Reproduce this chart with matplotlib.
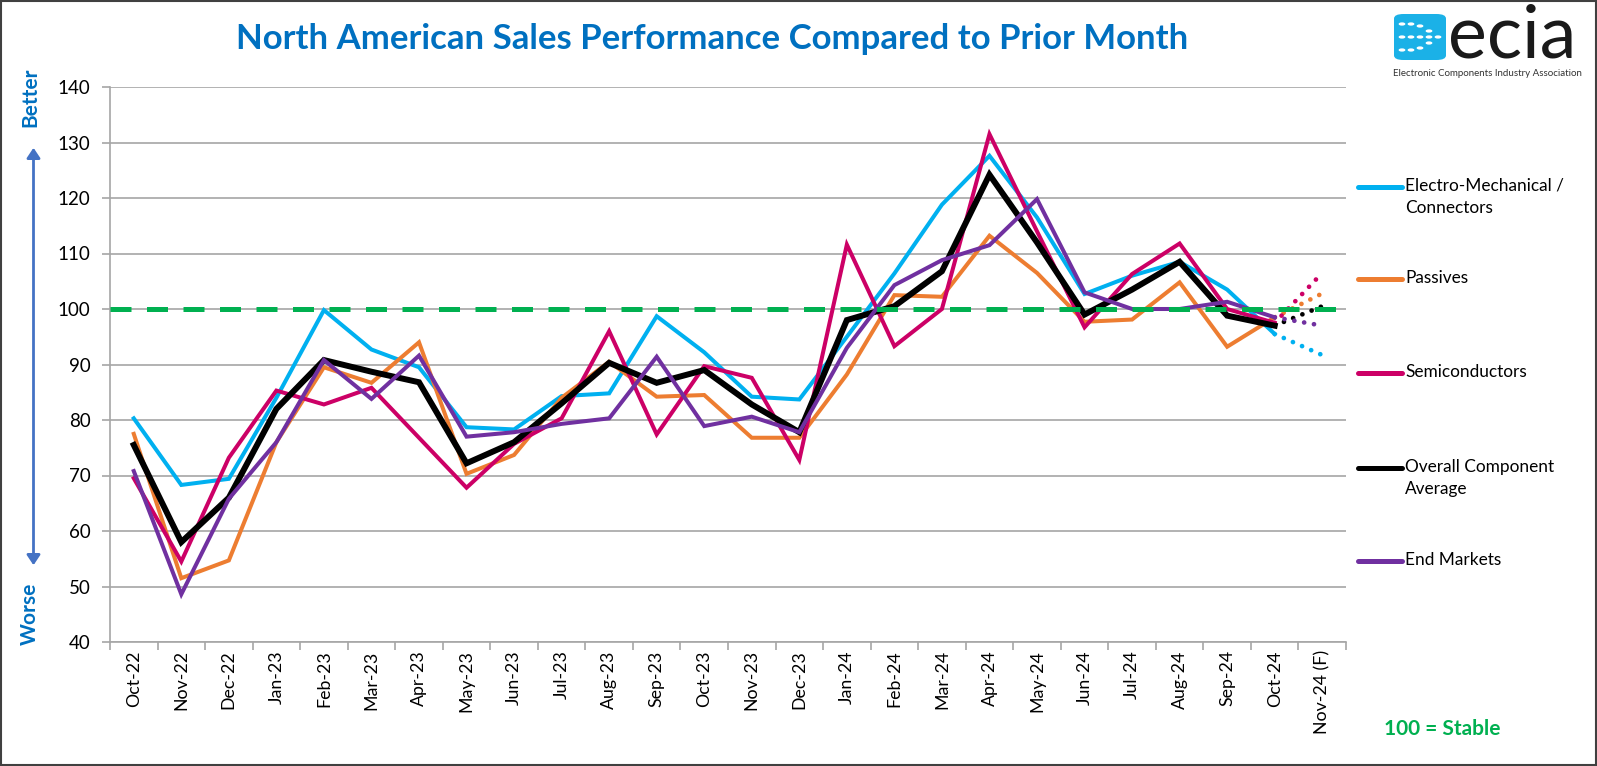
import matplotlib
matplotlib.use('Agg')
import matplotlib.pyplot as plt
from matplotlib.lines import Line2D
from matplotlib.patches import FancyBboxPatch, Circle, Rectangle
import numpy as np

plt.rcParams['font.family'] = ['Lato', 'DejaVu Sans']

# ---- data ----
months = ['Oct-22', 'Nov-22', 'Dec-22', 'Jan-23', 'Feb-23', 'Mar-23', 'Apr-23',
          'May-23', 'Jun-23', 'Jul-23', 'Aug-23', 'Sep-23', 'Oct-23', 'Nov-23',
          'Dec-23', 'Jan-24', 'Feb-24', 'Mar-24', 'Apr-24', 'May-24', 'Jun-24',
          'Jul-24', 'Aug-24', 'Sep-24', 'Oct-24', 'Nov-24 (F)']

electro = [80.3, 68.3, 69.4, 84.0, 99.8, 92.7, 89.5, 78.7, 78.3, 84.3, 84.8, 98.7,
           92.2, 84.2, 83.7, 95.0, 106.4, 118.8, 127.6, 116.5, 102.7, 106.0, 108.5,
           103.5, 95.5]
passives = [77.5, 51.5, 54.7, 76.0, 89.5, 86.7, 94.0, 70.3, 73.7, 84.0, 90.5, 84.2,
            84.5, 76.8, 76.8, 88.2, 102.5, 102.2, 113.2, 106.5, 97.7, 98.1, 104.8,
            93.2, 98.5]
semis = [69.5, 54.5, 73.2, 85.3, 82.8, 85.8, 76.8, 67.8, 75.7, 80.3, 96.0, 77.4,
         89.7, 87.6, 72.8, 111.6, 93.3, 100.0, 131.5, 114.0, 96.7, 106.3, 111.8,
         100.0, 97.5]
overall = [75.5, 58.0, 66.0, 82.0, 90.8, 88.7, 86.8, 72.2, 76.0, 83.0, 90.3, 86.7,
           89.0, 82.8, 77.8, 98.0, 100.5, 106.8, 124.2, 112.0, 99.0, 103.5, 108.5,
           98.8, 97.0]
end_markets = [70.8, 48.6, 65.8, 76.0, 90.8, 83.8, 91.6, 77.0, 77.8, 79.3, 80.3, 91.4,
               78.9, 80.6, 77.8, 93.0, 104.3, 108.8, 111.5, 119.8, 103.0, 100.0, 100.0,
               101.3, 98.5]

# Nov-24 forecast values
forecast = {'electro': 91.7, 'passives': 102.8, 'semis': 106.5,
            'overall': 100.5, 'end_markets': 97.0}

series_names = ['Electro-Mechanical /\nConnectors', 'Passives', 'Semiconductors',
                'Overall Component\nAverage', 'End Markets']
series_keys = ['electro', 'passives', 'semis', 'overall', 'end_markets']
series_vals = [electro, passives, semis, overall, end_markets]
colors = ['#00B0F0', '#ED7D31', '#CC0066', '#000000', '#7030A0']
widths = [2.9, 2.9, 2.9, 4.3, 2.9]

stable = 100

# ---- figure ----
fig = plt.figure(figsize=(15.97, 7.66), dpi=100)
ax = fig.add_axes([110 / 1597, 1 - 642 / 766, (1346 - 110) / 1597, (642 - 87) / 766])

x = np.arange(len(months))
n_act = len(electro)

for key, vals, c, lw in zip(series_keys, series_vals, colors, widths):
    ax.plot(x[:n_act], vals, color=c, lw=lw, solid_joinstyle='miter', zorder=3)
    ax.plot([x[n_act - 1], x[n_act]], [vals[-1], forecast[key]], color=c, lw=3.4,
            linestyle=(0, (0.01, 2.1)), dash_capstyle='round', zorder=3)

ax.axhline(stable, color='#00B050', lw=3.6, linestyle=(0, (4.2, 3.1)), zorder=4)

ax.set_xlim(-0.5, len(months) - 0.5)
ax.set_ylim(40, 140)
ax.set_yticks(np.arange(40, 141, 10))
ax.grid(axis='y', color='#A6A6A6', lw=1.2)
ax.set_axisbelow(True)

ax.set_xticks(x)
ax.set_xticklabels(months, rotation=90, fontsize=12.8)
ax.set_xticks(np.arange(-0.5, len(months), 1), minor=True)
ax.tick_params(axis='x', which='major', length=0, pad=6)
ax.tick_params(axis='x', which='minor', length=6, color='#A6A6A6', width=1.2)
ax.tick_params(axis='y', length=6, color='#A6A6A6', width=1.2, labelsize=13.5, pad=8)

for s in ['top', 'right']:
    ax.spines[s].set_visible(False)
for s in ['left', 'bottom']:
    ax.spines[s].set_color('#A6A6A6')
    ax.spines[s].set_linewidth(1.2)

# title
fig.text(712 / 1597, 1 - 39 / 766, 'North American Sales Performance Compared to Prior Month',
         ha='center', va='center', fontsize=25, fontweight='bold', color='#0070C0')

# better / worse arrow
fig.add_artist(matplotlib.patches.FancyArrowPatch(
    (33.5 / 1597, 1 - 145 / 766), (33.5 / 1597, 1 - 568 / 766),
    transform=fig.transFigure, arrowstyle='<|-|>,head_length=6,head_width=4',
    color='#4472C4', lw=2))
fig.text(30 / 1597, 1 - 97 / 766, 'Better', rotation=90, ha='center', va='center',
         fontsize=15, fontweight='bold', color='#0070C0')
fig.text(30 / 1597, 1 - 614 / 766, 'Worse', rotation=90, ha='center', va='center',
         fontsize=15, fontweight='bold', color='#0070C0')

# legend
leg_y = [187, 279, 373, 468, 561]
for name, c, lw, ly in zip(series_names, colors, widths, leg_y):
    yy = 1 - ly / 766
    fig.add_artist(Line2D([1358 / 1597, 1402 / 1597], [yy, yy], color=c, lw=3.6,
                          solid_capstyle='round', transform=fig.transFigure))
    fig.text(1405 / 1597, yy + 0.012, name, ha='left', va='top', fontsize=12.4,
             linespacing=1.5)

fig.text(1442 / 1597, 1 - 729 / 766, '100 = Stable', ha='center', va='center',
         fontsize=15, fontweight='bold', color='#00B050')

# logo
logo = FancyBboxPatch((1394 / 1597, 1 - 60 / 766), 52 / 1597, 46 / 766,
                      boxstyle='round,pad=0,rounding_size=0.006',
                      transform=fig.transFigure, facecolor='#1BB1E7', edgecolor='none')
fig.add_artist(logo)
for cx, cy in [(1402, 24), (1411, 24), (1420, 26), (1429, 31), (1438, 37),
               (1402, 37), (1411, 37), (1420, 37), (1429, 37),
               (1402, 50), (1411, 50), (1420, 48), (1429, 43)]:
    fig.add_artist(Circle((cx / 1597, 1 - cy / 766), 3.4 / 1597, transform=fig.transFigure,
                          facecolor='white', edgecolor='none'))
fig.text(1448 / 1597, 1 - 37 / 766, 'ecia', ha='left', va='center', fontsize=53,
         color='#1A1A1A')
fig.text(1487 / 1597, 1 - 74 / 766, 'Electronic Components Industry Association',
         ha='center', va='center', fontsize=7, color='#333333')

# border
fig.add_artist(Rectangle((0.0006, 0.001), 0.9988, 0.998, transform=fig.transFigure,
                         fill=False, edgecolor='#404040', lw=1.5))

fig.savefig('out.png', dpi=100)
